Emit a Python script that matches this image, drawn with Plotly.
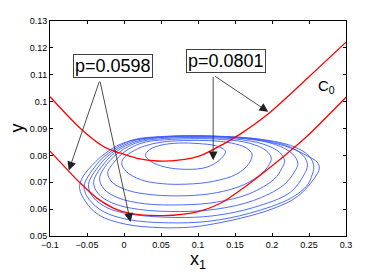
import plotly.graph_objects as go

# ---- tick definitions ----
x_ticks = [-0.1, -0.05, 0, 0.05, 0.1, 0.15, 0.2, 0.25, 0.3]
x_tick_text = ["\u22120.1", "\u22120.05", "0", "0.05", "0.1", "0.15", "0.2", "0.25", "0.3"]
y_ticks = [0.05, 0.06, 0.07, 0.08, 0.09, 0.10, 0.11, 0.12, 0.13]
y_tick_text = ["0.05", "0.06", "0.07", "0.08", "0.09", "0.1", "0.11", "0.12", "0.13"]

# ---- red curves (C0 family) ----
upper_x = [-0.1, -0.0588, -0.0273, -0.0047, 0.0178, 0.0449, 0.0764, 0.1034, 0.1349, 0.1574, 0.195, 0.249, 0.3]
upper_y = [0.1018, 0.0900, 0.0832, 0.0808, 0.0789, 0.0779, 0.0783, 0.0799, 0.0843, 0.0880, 0.0955, 0.1090, 0.1221]
lower_x = [-0.1, -0.0588, -0.0362, -0.0137, 0.0088, 0.0538, 0.0989, 0.1304, 0.1574, 0.2173, 0.2466, 0.3]
lower_y = [0.0816, 0.0696, 0.0640, 0.0603, 0.0584, 0.0576, 0.0590, 0.0622, 0.0671, 0.0800, 0.0869, 0.1016]

# ---- blue contour curves (inner -> outer) ----
c1_x = [0.137, 0.125, 0.100, 0.075, 0.050, 0.035, 0.029, 0.036, 0.055, 0.085, 0.112, 0.130]
c1_y = [0.0815, 0.0835, 0.0844, 0.0846, 0.0838, 0.0822, 0.0801, 0.0778, 0.0757, 0.0748, 0.0756, 0.0785]
c2_x = [0.173, 0.165, 0.145, 0.115, 0.080, 0.050, 0.028, 0.010, -0.001, -0.003, 0.003, 0.022, 0.050, 0.085, 0.120, 0.152, 0.169]
c2_y = [0.0805, 0.0828, 0.0846, 0.0855, 0.0855, 0.0849, 0.0835, 0.0812, 0.0788, 0.0768, 0.0740, 0.0710, 0.0695, 0.0693, 0.0703, 0.0730, 0.0770]
c3_x = [0.199, 0.192, 0.170, 0.135, 0.095, 0.055, 0.030, 0.014, -0.001, -0.013, -0.022, -0.016, 0.005, 0.040, 0.085, 0.125, 0.163, 0.187, 0.196]
c3_y = [0.0790, 0.0818, 0.0845, 0.0859, 0.0862, 0.0858, 0.0850, 0.0835, 0.0810, 0.0776, 0.0735, 0.0700, 0.0670, 0.0653, 0.0650, 0.0661, 0.0692, 0.0735, 0.0765]
c4_x = [0.217, 0.210, 0.188, 0.150, 0.100, 0.055, 0.025, 0.007, -0.008, -0.0205, -0.033, -0.027, -0.008, 0.028, 0.080, 0.125, 0.170, 0.203, 0.213]
c4_y = [0.0780, 0.0812, 0.0842, 0.0861, 0.0866, 0.0863, 0.0853, 0.0835, 0.0808, 0.0776, 0.0715, 0.0675, 0.0642, 0.0620, 0.0616, 0.0626, 0.0658, 0.0712, 0.0750]
c5_x = [0.235, 0.228, 0.205, 0.165, 0.110, 0.055, 0.022, 0.002, -0.013, -0.025, -0.041, -0.035, -0.015, 0.020, 0.075, 0.125, 0.175, 0.215, 0.230]
c5_y = [0.0770, 0.0805, 0.0840, 0.0862, 0.0869, 0.0867, 0.0856, 0.0835, 0.0808, 0.0776, 0.0702, 0.0658, 0.0622, 0.0599, 0.0591, 0.0600, 0.0632, 0.0688, 0.0737]
c6_x = [0.248, 0.242, 0.220, 0.175, 0.115, 0.055, 0.018, -0.002, -0.017, -0.0295, -0.048, -0.042, -0.022, 0.012, 0.070, 0.120, 0.175, 0.225, 0.243]
c6_y = [0.0763, 0.0800, 0.0836, 0.0862, 0.0871, 0.0869, 0.0858, 0.0835, 0.0808, 0.0776, 0.0692, 0.0645, 0.0604, 0.0580, 0.0569, 0.0575, 0.0606, 0.0663, 0.0727]
c7_x = [0.2565, 0.251, 0.230, 0.185, 0.120, 0.050, 0.014, -0.006, -0.021, -0.034, -0.054, -0.047, -0.028, 0.006, 0.060, 0.115, 0.170, 0.225, 0.248, 0.2535]
c7_y = [0.0757, 0.0795, 0.0832, 0.0860, 0.0872, 0.0870, 0.0859, 0.0835, 0.0808, 0.0776, 0.0685, 0.0636, 0.0591, 0.0561, 0.0549, 0.0555, 0.0585, 0.0640, 0.0690, 0.0722]
c8_x = [0.264, 0.261, 0.2476, 0.225, 0.19, 0.14, 0.09, 0.043, 0.010, -0.010, -0.025, -0.0385, -0.0565, -0.060, -0.052, -0.034, 0.002, 0.050, 0.090, 0.1124, 0.1574, 0.2025, 0.234, 0.2565]
c8_y = [0.0752, 0.0775, 0.0798, 0.0828, 0.0853, 0.0868, 0.0873, 0.0867, 0.0855, 0.0835, 0.0808, 0.0776, 0.0716, 0.0677, 0.0628, 0.0578, 0.0544, 0.0531, 0.0533, 0.0541, 0.0566, 0.0603, 0.0646, 0.0712]

# ---- annotation texts / anchor values ----
labels = ["p=0.0598", "p=0.0801"]
label_pos = [(-0.0145, 0.1132), (0.1378, 0.1151)]
arrow_tails = [(-0.0327, 0.1080), (-0.0327, 0.1080), (0.1205, 0.1098), (0.1210, 0.1098)]
arrow_tips = [(-0.0746, 0.0744), (0.0088, 0.0552), (0.1205, 0.0782), (0.1949, 0.0962)]
curve_label = "C<sub>0</sub>"
curve_label_pos = (0.2738, 0.1058)
x_title = "x<sub>1</sub>"
y_title = "y"

FONT = "Liberation Sans, Arial, Helvetica, sans-serif"


def closed(xs, ys):
    k = ys.index(max(ys))
    return xs[k:] + xs[:k] + [xs[k]], ys[k:] + ys[:k] + [ys[k]]


fig = go.Figure()

for cx, cy in [(c1_x, c1_y), (c2_x, c2_y), (c3_x, c3_y), (c4_x, c4_y),
               (c5_x, c5_y), (c6_x, c6_y), (c7_x, c7_y), (c8_x, c8_y)]:
    xx, yy = closed(cx, cy)
    fig.add_trace(go.Scatter(x=xx, y=yy, mode="lines",
                             line=dict(color="rgb(60,90,255)", width=0.9, shape="spline", smoothing=1.0),
                             hoverinfo="skip", showlegend=False))

for rx, ry in [(upper_x, upper_y), (lower_x, lower_y)]:
    fig.add_trace(go.Scatter(x=rx, y=ry, mode="lines",
                             line=dict(color="rgb(255,0,0)", width=1.3, shape="spline", smoothing=0.8),
                             hoverinfo="skip", showlegend=False))

annotations = []
for (tx, ty), (hx, hy) in zip(arrow_tails, arrow_tips):
    annotations.append(dict(x=hx, y=hy, ax=tx, ay=ty, xref="x", yref="y", axref="x", ayref="y",
                            text="", showarrow=True, arrowhead=2, arrowsize=2.2, arrowwidth=0.8,
                            arrowcolor="#202020", standoff=0, startstandoff=0))
for txt, (lx, ly) in zip(labels, label_pos):
    annotations.append(dict(x=lx, y=ly, xref="x", yref="y", text=txt, showarrow=False,
                            font=dict(family=FONT, size=18, color="black"),
                            bgcolor="white", bordercolor="#404040", borderwidth=1, borderpad=1,
                            xanchor="center", yanchor="middle"))
annotations.append(dict(x=curve_label_pos[0], y=curve_label_pos[1], xref="x", yref="y",
                        text=curve_label, showarrow=False,
                        font=dict(family=FONT, size=15, color="black"),
                        xanchor="center", yanchor="middle"))
annotations.append(dict(x=0.5, y=0, xref="paper", yref="paper", text=x_title, showarrow=False,
                        font=dict(family=FONT, size=18, color="black"),
                        xanchor="center", yanchor="top", yshift=-11))
annotations.append(dict(x=0, y=0.5, xref="paper", yref="paper", text=y_title, showarrow=False,
                        font=dict(family=FONT, size=18, color="black"), textangle=-90,
                        xanchor="center", yanchor="middle", xshift=-34))

axis_common = dict(ticks="inside", ticklen=3, tickwidth=0.8, tickcolor="black",
                   showline=True, linecolor="black", linewidth=1, mirror="ticks",
                   showgrid=False, zeroline=False, automargin=False,
                   tickfont=dict(family=FONT, size=9, color="black"))

# the page body adds an 8px offset, so the figure is sized to fill the rest of the window
fig.update_layout(
    width=374, height=266,
    margin=dict(l=42, r=36, t=13, b=38),
    paper_bgcolor="white", plot_bgcolor="white",
    showlegend=False,
    annotations=annotations,
    xaxis=dict(range=[-0.1, 0.3], tickmode="array", tickvals=x_ticks, ticktext=x_tick_text, **axis_common),
    yaxis=dict(range=[0.05, 0.13], tickmode="array", tickvals=y_ticks, ticktext=y_tick_text, **axis_common),
)

fig.write_html("out.html")
